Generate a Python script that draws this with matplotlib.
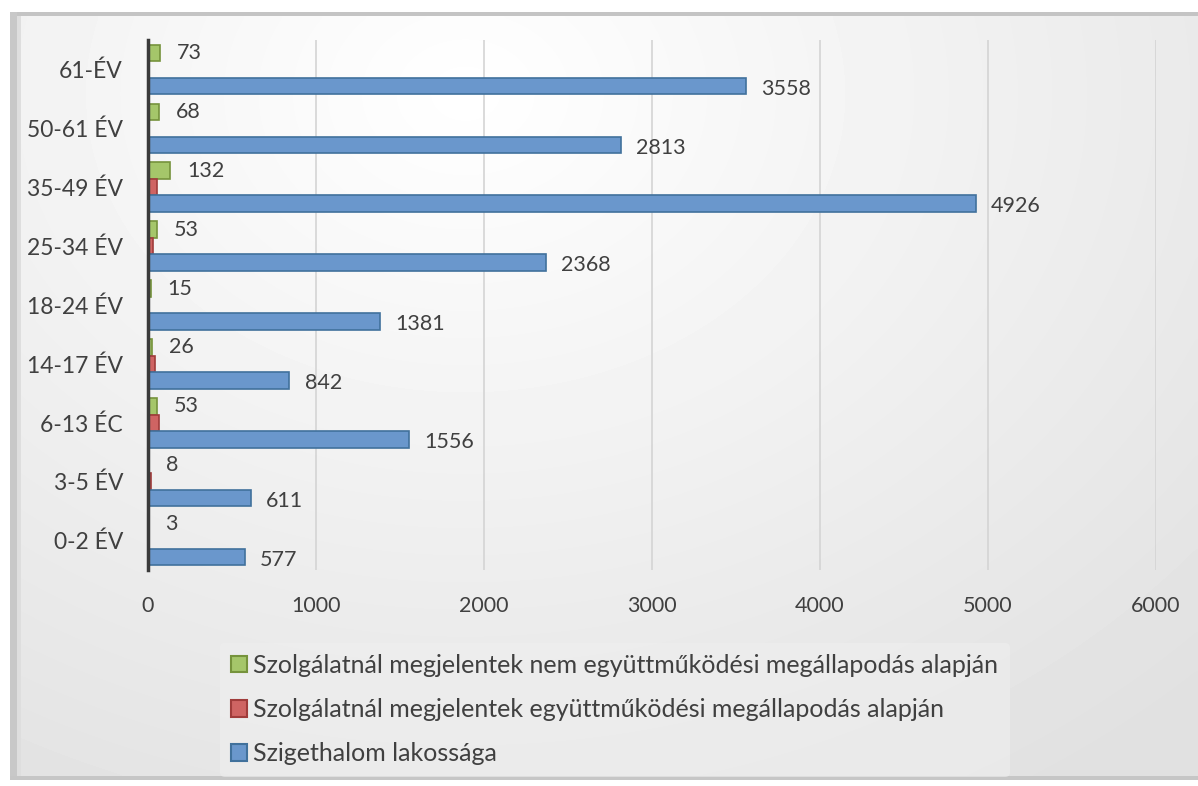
import matplotlib.pyplot as plt
import numpy as np
from matplotlib.patches import Rectangle, Patch

plt.rcParams['font.family'] = ['Lato', 'DejaVu Sans']

categories = ['0-2 ÉV', '3-5 ÉV', '6-13 ÉC', '14-17 ÉV', '18-24 ÉV',
              '25-34 ÉV', '35-49 ÉV', '50-61 ÉV', '61-ÉV']
nem_egyutt = [3, 8, 53, 26, 15, 53, 132, 68, 73]
egyutt = [6, 16, 65, 40, 6, 28, 55, 8, 8]
lakossag = [577, 611, 1556, 842, 1381, 2368, 4926, 2813, 3558]

series_names = ['Szolgálatnál megjelentek nem együttműködési megállapodás alapján',
                'Szolgálatnál megjelentek együttműködési megállapodás alapján',
                'Szigethalom lakossága']
fills = ['#a5c66a', '#cf6463', '#6a97cc']
edges = ['#76933c', '#a03c3b', '#41719c']
text_col = '#404040'

W, H = 1198, 786
fig = plt.figure(figsize=(W / 100, H / 100), dpi=100)
fig.patch.set_facecolor('white')

# background panel with soft gradient and bevel frame
bg = fig.add_axes([0, 0, 1, 1], zorder=-10)
bg.set_xlim(0, W)
bg.set_ylim(H, 0)
bg.axis('off')
gx, gy = np.meshgrid(np.linspace(0, 1, 300), np.linspace(0, 1, 200))
dist = np.sqrt(((gx - 0.38) / 0.9) ** 2 + ((gy - 0.1) / 1.1) ** 2)
shade = np.clip(1.0 - 0.12 * dist, 0.88, 1.0)
bg.imshow(shade, cmap='gray', vmin=0, vmax=1, extent=[16, W, 778, 16],
          aspect='auto', interpolation='bicubic')
bg.add_patch(Rectangle((16, 12), W - 16, 4, color='#c4c4c4', lw=0))
bg.add_patch(Rectangle((10, 12), 7, 768, color='#c8c8c8', lw=0))
bg.add_patch(Rectangle((17, 16), 4, 762, color='#dedede', lw=0))
bg.add_patch(Rectangle((10, 776), W - 10, 4, color='#c6c6c6', lw=0))

ax = fig.add_axes([148 / W, 1 - 570 / H, (1156 - 148) / W, (570 - 40) / H])
ax.patch.set_alpha(0)

y = np.arange(len(categories))
h = 0.28
series = [nem_egyutt, egyutt, lakossag]
offsets = [h, 0, -h]
for vals, off, fc, ec, name in zip(series, offsets, fills, edges, series_names):
    ax.barh(y + off, vals, height=h, color=fc, edgecolor=ec, linewidth=1.2,
            label=name, zorder=3)

for i in range(len(categories)):
    ax.annotate(str(nem_egyutt[i]), (nem_egyutt[i], y[i] + h), xytext=(12, 0),
                textcoords='offset points', va='center', ha='left',
                fontsize=15.5, color=text_col)
    ax.annotate(str(lakossag[i]), (lakossag[i], y[i] - h), xytext=(11, -2),
                textcoords='offset points', va='center', ha='left',
                fontsize=15.5, color=text_col)

ax.set_xlim(0, 6000)
ax.set_ylim(-0.5, 8.5)
ax.set_xticks(range(0, 6001, 1000))
ax.set_yticks(y)
ax.set_yticklabels(categories)
ax.tick_params(axis='both', length=0, colors=text_col)
ax.tick_params(axis='x', pad=19, labelsize=15.5)
ax.tick_params(axis='y', pad=18, labelsize=16.5)
ax.grid(axis='x', color='#d4d4d4', linewidth=1.2, zorder=0)
for s in ['top', 'right', 'bottom']:
    ax.spines[s].set_visible(False)
ax.spines['left'].set_color('#3a3a3a')
ax.spines['left'].set_linewidth(2.5)
ax.spines['left'].set_zorder(4)

handles = [Patch(facecolor=fc, edgecolor=ec, linewidth=1.5)
           for fc, ec in zip(fills, edges)]
leg = fig.legend(handles, series_names, loc='upper left',
                 bbox_to_anchor=(207 / W, 1 - 630 / H), frameon=True,
                 fontsize=18, handlelength=0.65, handleheight=0.65,
                 handletextpad=0.25, labelspacing=0.85, borderpad=0.45,
                 labelcolor=text_col)
leg.get_frame().set_facecolor('#efefef')
leg.get_frame().set_edgecolor('none')
leg.get_frame().set_alpha(0.6)

fig.savefig('out.png', dpi=100)
